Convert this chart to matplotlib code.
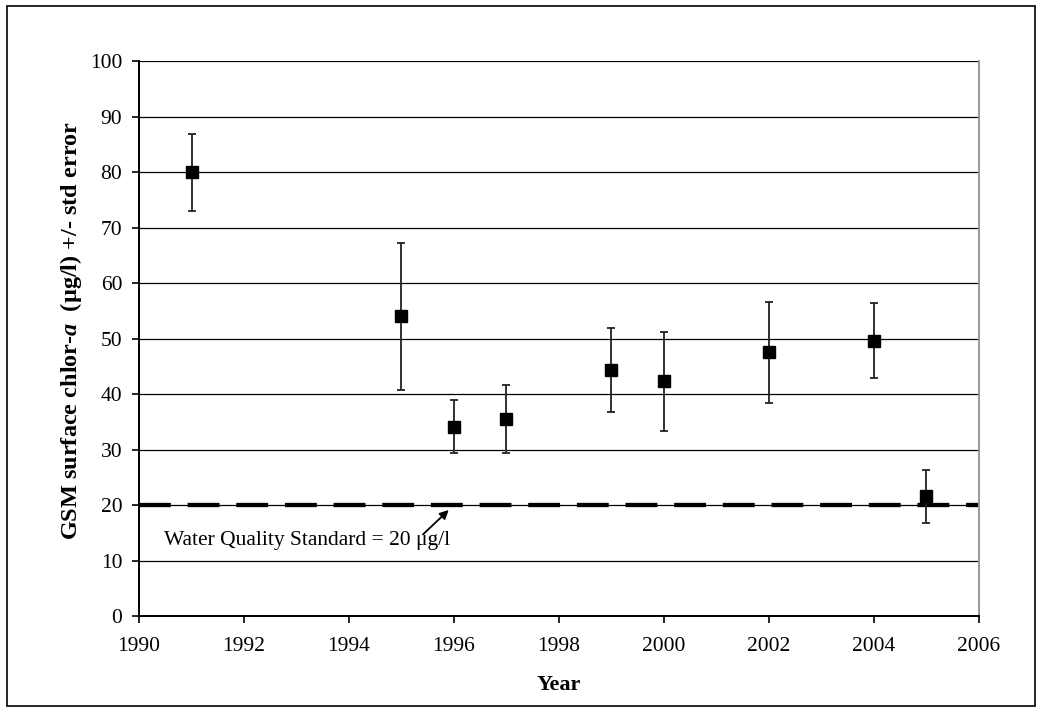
import matplotlib.pyplot as plt
import numpy as np
from matplotlib.patches import Rectangle

plt.rcParams['font.family'] = ['Liberation Serif', 'DejaVu Serif']
plt.rcParams['mathtext.fontset'] = 'custom'
plt.rcParams['mathtext.rm'] = 'Liberation Serif:bold'
plt.rcParams['mathtext.it'] = 'Liberation Serif:italic:bold'
plt.rcParams['mathtext.bf'] = 'Liberation Serif:bold'

# yearly means of surface chlorophyll-a with upper / lower std error bounds
years = [1991, 1995, 1996, 1997, 1999, 2000, 2002, 2004, 2005]
chl = [80.0, 54.0, 34.1, 35.5, 44.4, 42.3, 47.5, 49.6, 21.6]
upper = [86.9, 67.2, 38.9, 41.6, 51.9, 51.2, 56.6, 56.4, 26.4]
lower = [73.0, 40.8, 29.3, 29.4, 36.8, 33.4, 38.3, 42.8, 16.8]
standard = 20

chl = np.array(chl)
yerr = [chl - np.array(lower), np.array(upper) - chl]

fig = plt.figure(figsize=(10.42, 7.12), dpi=100)
ax = fig.add_axes([0.1334, 0.1348, 0.8061, 0.7795])

for y in range(10, 101, 10):
    ax.axhline(y, color='black', lw=0.9, zorder=1)

ax.plot([1990, 2006], [standard, standard], color='black', lw=3.1,
        dashes=(7.4, 3.9), zorder=2, solid_capstyle='butt', dash_capstyle='butt')

ax.errorbar(years, chl, yerr=yerr, fmt='s', color='black', ms=8,
            ecolor='#222222', elinewidth=1.3, capsize=2.8, capthick=1.3, zorder=3)

ax.text(1990.48, 13.6, 'Water Quality Standard = 20 \u03bcg/l', fontsize=15.5,
        va='center', ha='left')
ax.annotate('', xy=(1995.90, 19.1), xytext=(1995.41, 14.7),
            arrowprops=dict(arrowstyle='-|>', color='black', lw=1.3,
                            mutation_scale=13, shrinkA=0, shrinkB=0))

ax.set_xlim(1990, 2006)
ax.set_ylim(0, 100)
ax.set_xticks(range(1990, 2007, 2))
ax.set_yticks(range(0, 101, 10))
ax.tick_params(labelsize=15.5, direction='out', length=5, width=1.2, colors='black')
ax.tick_params(axis='x', pad=10)
ax.tick_params(axis='y', pad=7)

for side in ['left', 'bottom']:
    ax.spines[side].set_linewidth(1.4)
ax.spines['top'].set_visible(False)
ax.spines['right'].set_color('#999999')
ax.spines['right'].set_linewidth(1.4)

ax.set_xlabel('Year', fontsize=16, fontweight='bold', labelpad=14)
ax.set_ylabel('GSM surface chlor-$\\mathit{a}$  (\u00b5g/l) +/- std error',
              fontsize=17.5, fontweight='bold')
ax.yaxis.set_label_coords(-0.066, 0.515)

fig.patches.append(Rectangle((0.007, 0.009), 0.986, 0.982, transform=fig.transFigure,
                             fill=False, edgecolor='black', lw=1.2))

fig.savefig('out.png', dpi=100)
